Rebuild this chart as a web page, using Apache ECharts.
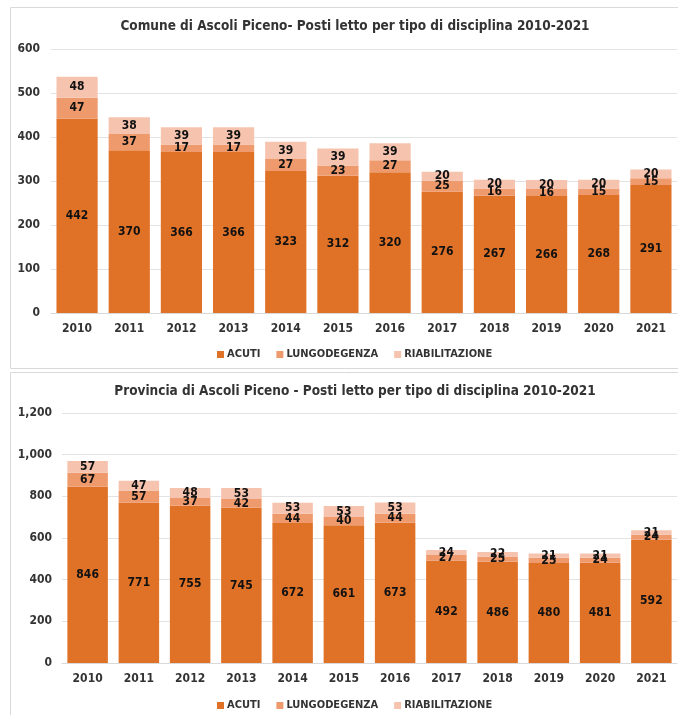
<!DOCTYPE html>
<html><head><meta charset="utf-8">
<script src="https://cdn.jsdelivr.net/npm/echarts@6/dist/echarts.min.js"></script>
<style>html,body{margin:0;padding:0;background:#fff}#c{width:678px;height:715px}</style>
</head><body><div id="c"></div>
<script>
const years = ['2010','2011','2012','2013','2014','2015','2016','2017','2018','2019','2020','2021'];
const seriesNames = ['ACUTI','LUNGODEGENZA','RIABILITAZIONE'];
const comuneAcuti = [442,370,366,366,323,312,320,276,267,266,268,291];
const comuneLungo = [47,37,17,17,27,23,27,25,16,16,15,15];
const comuneRiab = [48,38,39,39,39,39,39,20,20,20,20,20];
const provAcuti = [846,771,755,745,672,661,673,492,486,480,481,592];
const provLungo = [67,57,37,42,44,40,44,27,25,25,24,24];
const provRiab = [57,47,48,53,53,53,53,24,22,21,21,21];
const titleTop = 'Comune di Ascoli Piceno- Posti letto per tipo di disciplina 2010-2021';
const titleBottom = 'Provincia di Ascoli Piceno - Posti letto per tipo di disciplina 2010-2021';

const colors = ['#E07228','#EF9A6D','#F6C3AF'];
const font = '"DejaVu Sans Condensed","DejaVu Sans",sans-serif';
const chart = echarts.init(document.getElementById('c'), null, {renderer:'canvas'});

function mkSeries(data, i, axisIdx, stack){
  return {
    name: seriesNames[i], type:'bar', stack: stack, xAxisIndex: axisIdx, yAxisIndex: axisIdx,
    data: data, barCategoryGap:'21%', itemStyle:{color:colors[i]},
    label:{show:true, position:'inside', color:'#111', fontWeight:'bold', fontSize:12, fontFamily:font},
    emphasis:{disabled:true}
  };
}
const axisLabelStyle = {color:'#333', fontSize:12, fontWeight:'bold', fontFamily:font};
const legendText = {color:'#333', fontSize:11, fontWeight:'bold', fontFamily:font, padding:[0,0,0,-2]};
chart.setOption({
  animation:false,
  graphic:[
    {type:'rect', shape:{x:10.5,y:7.5,width:680,height:361}, style:{fill:'none', stroke:'#d9d9d9', lineWidth:1}},
    {type:'rect', shape:{x:10.5,y:372.5,width:680,height:360}, style:{fill:'none', stroke:'#d9d9d9', lineWidth:1}}
  ],
  title:[
    {text:titleTop, left:350, textAlign:'center', top:14, textStyle:{fontSize:13.5, fontWeight:'bold', color:'#333', fontFamily:font}},
    {text:titleBottom, left:350, textAlign:'center', top:379, textStyle:{fontSize:13.5, fontWeight:'bold', color:'#333', fontFamily:font}}
  ],
  legend:[
    {data:seriesNames, top:344, left:212, itemWidth:7, itemHeight:7, itemGap:16, icon:'rect', textStyle:legendText},
    {data:seriesNames, top:695, left:212, itemWidth:7, itemHeight:7, itemGap:16, icon:'rect', textStyle:legendText}
  ],
  grid:[
    {left:51, right:1, top:49, height:264},
    {left:62, right:1, top:413, height:250}
  ],
  xAxis:[
    {type:'category', data:years, gridIndex:0, axisTick:{show:false}, axisLine:{lineStyle:{color:'#d9d9d9'}}, axisLabel:Object.assign({margin:10}, axisLabelStyle)},
    {type:'category', data:years, gridIndex:1, axisTick:{show:false}, axisLine:{lineStyle:{color:'#d9d9d9'}}, axisLabel:Object.assign({margin:10}, axisLabelStyle)}
  ],
  yAxis:[
    {type:'value', gridIndex:0, min:0, max:600, interval:100, axisLabel:Object.assign({margin:11}, axisLabelStyle), splitLine:{lineStyle:{color:'#e3e3e3'}}},
    {type:'value', gridIndex:1, min:0, max:1200, interval:200, axisLabel:Object.assign({margin:10, formatter:v=>v.toLocaleString('en-US')}, axisLabelStyle), splitLine:{lineStyle:{color:'#e3e3e3'}}}
  ],
  series:[
    mkSeries(comuneAcuti,0,0,'a'), mkSeries(comuneLungo,1,0,'a'), mkSeries(comuneRiab,2,0,'a'),
    mkSeries(provAcuti,0,1,'b'), mkSeries(provLungo,1,1,'b'), mkSeries(provRiab,2,1,'b')
  ]
});
</script></body></html>
